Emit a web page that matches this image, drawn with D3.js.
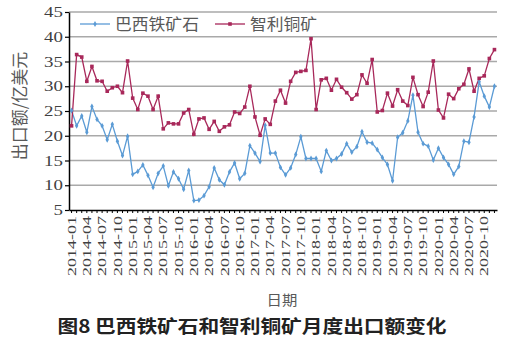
<!DOCTYPE html>
<html><head><meta charset="utf-8">
<script src="https://cdn.jsdelivr.net/npm/d3@7"></script>
<style>html,body{margin:0;padding:0;background:#fff;}svg{display:block;}</style>
</head><body>
<svg id="c" width="507" height="341"></svg>
<script>
const months = [
"2014-01","2014-02","2014-03","2014-04","2014-05","2014-06","2014-07","2014-08","2014-09","2014-10","2014-11","2014-12",
"2015-01","2015-02","2015-03","2015-04","2015-05","2015-06","2015-07","2015-08","2015-09","2015-10","2015-11","2015-12",
"2016-01","2016-02","2016-03","2016-04","2016-05","2016-06","2016-07","2016-08","2016-09","2016-10","2016-11","2016-12",
"2017-01","2017-02","2017-03","2017-04","2017-05","2017-06","2017-07","2017-08","2017-09","2017-10","2017-11","2017-12",
"2018-01","2018-02","2018-03","2018-04","2018-05","2018-06","2018-07","2018-08","2018-09","2018-10","2018-11","2018-12",
"2019-01","2019-02","2019-03","2019-04","2019-05","2019-06","2019-07","2019-08","2019-09","2019-10","2019-11","2019-12",
"2020-01","2020-02","2020-03","2020-04","2020-05","2020-06","2020-07","2020-08","2020-09","2020-10","2020-11","2020-12"];

const tickLabels = [
"2014-01","2014-04","2014-07","2014-10","2015-01","2015-04","2015-07","2015-10",
"2016-01","2016-04","2016-07","2016-10","2017-01","2017-04","2017-07","2017-10",
"2018-01","2018-04","2018-07","2018-10","2019-01","2019-04","2019-07","2019-10",
"2020-01","2020-04","2020-07","2020-10"];

// 巴西铁矿石
const brazilIronOre = [
25.1,22.0,24.0,20.7,25.9,23.3,22.0,19.2,22.3,18.9,16.0,19.9,
12.2,12.8,14.1,12.0,9.6,12.4,13.9,9.9,12.7,11.3,9.2,13.0,
6.9,7.0,7.9,9.7,13.5,11.1,10.1,12.7,14.5,11.3,12.4,18.0,
16.5,14.8,22.1,16.5,16.5,13.6,12.1,13.5,16.2,19.8,15.4,15.4,
15.4,12.8,17.0,15.0,15.4,16.3,18.4,16.7,17.8,20.8,18.7,18.5,
17.2,15.6,14.2,10.9,19.7,20.6,23.0,28.2,20.7,18.4,17.9,15.1,
17.5,15.6,14.2,12.2,13.8,18.9,18.7,23.8,30.9,28.0,25.8,30.0];

// 智利铜矿
const chileCopperOre = [
22.0,36.4,35.9,31.0,34.0,31.1,31.0,29.0,29.7,30.0,28.7,35.1,
27.6,25.3,28.6,28.0,25.3,28.0,21.4,22.6,22.4,22.4,24.6,25.3,
20.3,23.4,23.6,21.3,22.9,20.9,21.8,22.2,24.8,24.5,25.8,30.0,
23.8,20.1,23.4,22.3,27.0,29.2,26.6,31.0,32.8,33.0,33.2,39.6,
25.3,31.3,31.6,29.2,31.4,29.8,28.7,27.4,28.3,32.3,30.6,35.4,
24.8,25.1,28.6,26.0,29.3,27.0,26.1,31.8,28.3,25.9,28.8,35.1,
25.2,23.6,28.4,27.5,29.5,30.4,33.5,29.0,31.6,32.1,35.6,37.4];

const yTicks = [5,10,15,20,25,30,35,40,45];
const seriesNames = ["巴西铁矿石","智利铜矿"];
const titleText = "图8 巴西铁矿石和智利铜矿月度出口额变化";
const xTitle = "日期";
const yTitle = "出口额/亿美元";

const BLUE = "#5b9bd5", RED = "#a8285a";
const svg = d3.select("#c");
svg.append("rect").attr("width",507).attr("height",341).attr("fill","#fff");

const x = d3.scaleBand().domain(months).range([69, 497]);
const y = d3.scaleLinear().domain([5, 45]).range([210, 12]);
const cx = m => x(m) + x.bandwidth() / 2;
const [x0, x1] = x.range();

// gridlines
svg.append("g").selectAll("line").data(yTicks.slice(1)).join("line")
  .attr("x1", x0).attr("x2", x1)
  .attr("y1", d => y(d)).attr("y2", d => y(d))
  .attr("stroke", "#a9a9a9").attr("stroke-width", 1.3);

// y axis
const yAxis = svg.append("g").attr("transform", `translate(${x0},0)`)
  .call(d3.axisLeft(y).tickValues(yTicks).tickSize(4).tickSizeOuter(0).tickFormat(""));
yAxis.select(".domain").attr("stroke", "#000").attr("stroke-width", 1.5);
yAxis.selectAll(".tick line").attr("stroke", "#000").attr("stroke-width", 1.2);

svg.append("g").selectAll("text").data(yTicks).join("text")
  .attr("transform", d => `translate(${x0 - 6},${y(d) + 5}) scale(1.35,1)`)
  .attr("text-anchor", "end")
  .style("font-family", "'Liberation Serif','DejaVu Serif',serif")
  .style("font-size", "14px").attr("fill", "#404040")
  .text(d => d);

// x axis
const xAxis = svg.append("g").attr("transform", `translate(0,${y(5)})`)
  .call(d3.axisBottom(x).tickValues(months).tickSize(3).tickSizeOuter(0)
    .tickFormat(d => tickLabels.includes(d) ? d : ""));
xAxis.select(".domain").attr("stroke", "#000").attr("stroke-width", 1.5);
xAxis.selectAll(".tick line").attr("stroke", "#000").attr("stroke-width", 1);
xAxis.selectAll(".tick text")
  .attr("transform", "rotate(-90)")
  .attr("x", -6).attr("y", 0).attr("dy", "0.35em")
  .style("text-anchor", "end")
  .style("font-family", "'Liberation Serif','DejaVu Serif',serif")
  .style("font-size", "12px").attr("fill", "#404040")
  .each(function(d){ if (tickLabels.includes(d)) d3.select(this).attr("textLength", 60).attr("lengthAdjust", "spacingAndGlyphs"); });

// lines
const line = d3.line().x((d, i) => cx(months[i])).y(d => y(d));
svg.append("path").datum(brazilIronOre).attr("d", line)
  .attr("fill", "none").attr("stroke", BLUE).attr("stroke-width", 1.3);
svg.append("path").datum(chileCopperOre).attr("d", line)
  .attr("fill", "none").attr("stroke", RED).attr("stroke-width", 1.3);

const diamond = d3.symbol().type(d3.symbolDiamond).size(10);
svg.append("g").selectAll("path").data(brazilIronOre).join("path")
  .attr("d", diamond).attr("fill", BLUE)
  .attr("transform", (d, i) => `translate(${cx(months[i])},${y(d)})`);
svg.append("g").selectAll("rect").data(chileCopperOre).join("rect")
  .attr("x", (d, i) => cx(months[i]) - 1.8).attr("y", d => y(d) - 1.8)
  .attr("width", 3.6).attr("height", 3.6).attr("fill", RED);

// legend
const legend = [{name: seriesNames[0], color: BLUE, lx: 80, tx: 115, shape: "d"},
                {name: seriesNames[1], color: RED, lx: 215, tx: 250, shape: "s"}];
const lg = svg.append("g");
legend.forEach(l => {
  lg.append("line").attr("x1", l.lx).attr("x2", l.lx + 30).attr("y1", 24).attr("y2", 24)
    .attr("stroke", l.color).attr("stroke-width", 1.3);
  if (l.shape === "d") lg.append("path").attr("d", diamond).attr("fill", l.color).attr("transform", `translate(${l.lx + 15},24)`);
  else lg.append("rect").attr("x", l.lx + 13.2).attr("y", 22.2).attr("width", 3.6).attr("height", 3.6).attr("fill", l.color);
  lg.append("text").attr("transform", `translate(${l.tx},30) scale(1.05,1)`)
    .style("font-family", "'Noto Sans CJK SC',sans-serif").style("font-size", "16px")
    .attr("fill", "#595959").text(l.name);
});

// axis titles
svg.append("text").attr("transform", "translate(282,305) scale(1.1,1)")
  .attr("text-anchor", "middle")
  .style("font-family", "'Noto Sans CJK SC',sans-serif").style("font-size", "14px")
  .attr("fill", "#595959").text(xTitle);
svg.append("text").attr("transform", "translate(26,106) rotate(-90)")
  .attr("text-anchor", "middle")
  .style("font-family", "'Noto Sans CJK SC',sans-serif").style("font-size", "17px")
  .attr("fill", "#595959").text(yTitle);

// title
svg.append("text").attr("transform", "translate(252,333) scale(1.15,1)")
  .attr("text-anchor", "middle")
  .style("font-family", "'Noto Sans CJK SC',sans-serif").style("font-size", "18px")
  .style("font-weight", "bold").attr("fill", "#222").text(titleText);
</script>
</body></html>
